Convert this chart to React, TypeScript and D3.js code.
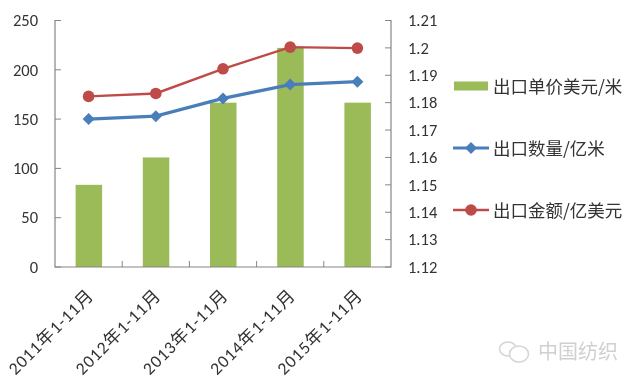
import React from "react";
import * as d3 from "d3";

const categories = ["2011年1-11月", "2012年1-11月", "2013年1-11月", "2014年1-11月", "2015年1-11月"];
const unitPrice = [1.15, 1.16, 1.18, 1.2, 1.18];
const quantity = [150, 153, 171, 185, 188];
const amount = [173, 176, 201, 223, 222];
const leftTicks = [0, 50, 100, 150, 200, 250];
const rightTicks = [1.12, 1.13, 1.14, 1.15, 1.16, 1.17, 1.18, 1.19, 1.2, 1.21];
const legendLabels = ["出口单价美元/米", "出口数量/亿米", "出口金额/亿美元"];

const GREEN = "#9bbb59";
const BLUE = "#4a7ebb";
const RED = "#be4b48";
const AXIS = "#868686";
const TEXT = "#333";
const FONT = "Carlito, 'Open Sans', 'Noto Sans', 'Noto Sans CJK SC', sans-serif";
const CJK = "'Noto Sans CJK SC', sans-serif";

const x = d3.scaleBand<string>().domain(categories).range([55, 391]);
const yL = d3.scaleLinear().domain([0, 250]).range([267, 20.5]);
const yR = d3.scaleLinear().domain([1.12, 1.21]).range([267, 20.5]);
const cx = (i: number) => (x(categories[i]) as number) + x.bandwidth() / 2;

const line = d3.line<number>().x((_, i) => cx(i)).y((d) => yL(d));
const diamond = (px: number, py: number, r: number) =>
  `M${px},${py - r}L${px + r},${py}L${px},${py + r}L${px - r},${py}Z`;

export default function App() {
  const legendY = [86, 148, 210];
  return (
    <svg
      width={640}
      height={385}
      style={{ position: "absolute", left: 0, top: 0, background: "#fff" }}
    >
      <g style={{ filter: "blur(0.5px)" }}>
        {categories.map((c, i) => (
          <rect
            key={c}
            x={cx(i) - 13}
            y={yR(unitPrice[i])}
            width={26.5}
            height={267 - yR(unitPrice[i])}
            fill={GREEN}
          />
        ))}

        <path d={`M61,20.5H55V267H391V20.5H385`} fill="none" stroke={AXIS} strokeWidth={1.2} />
        {leftTicks.map((t) => (
          <line key={t} x1={55} x2={61} y1={yL(t)} y2={yL(t)} stroke={AXIS} strokeWidth={1} />
        ))}
        {rightTicks.map((t) => (
          <line key={t} x1={385} x2={391} y1={yR(t)} y2={yR(t)} stroke={AXIS} strokeWidth={1} />
        ))}
        {categories.slice(1).map((c) => (
          <line
            key={c}
            x1={x(c) as number}
            x2={x(c) as number}
            y1={261}
            y2={267}
            stroke={AXIS}
            strokeWidth={1}
          />
        ))}

        <path d={line(quantity) as string} fill="none" stroke={BLUE} strokeWidth={3.2} />
        {quantity.map((v, i) => (
          <path key={i} d={diamond(cx(i), yL(v), 6)} fill={BLUE} />
        ))}
        <path d={line(amount) as string} fill="none" stroke={RED} strokeWidth={2.4} />
        {amount.map((v, i) => (
          <circle key={i} cx={cx(i)} cy={yL(v)} r={5.8} fill={RED} />
        ))}

        {leftTicks.map((t) => (
          <text key={t} x={38} y={yL(t)} dy="0.35em" textAnchor="end" fontSize={16.5} fontFamily={FONT} fill={TEXT}>
            {t}
          </text>
        ))}
        {rightTicks.map((t) => (
          <text key={t} x={408} y={yR(t)} dy="0.35em" fontSize={16.5} fontFamily={FONT} fill={TEXT}>
            {String(t)}
          </text>
        ))}
        {categories.map((c, i) => (
          <text
            key={c}
            transform={`translate(${cx(i) + 2},${292}) rotate(-45)`}
            textAnchor="end"
            dy="0.35em"
            fontSize={17.5}
            letterSpacing={1}
            fontFamily={FONT}
            fill={TEXT}
          >
            {c}
          </text>
        ))}

        <rect x={454} y={legendY[0] - 4.5} width={34} height={9} fill={GREEN} />
        <line x1={453} x2={489} y1={legendY[1]} y2={legendY[1]} stroke={BLUE} strokeWidth={3.2} />
        <path d={diamond(471, legendY[1], 6)} fill={BLUE} />
        <line x1={453} x2={489} y1={legendY[2]} y2={legendY[2]} stroke={RED} strokeWidth={2.4} />
        <circle cx={471} cy={legendY[2]} r={5.8} fill={RED} />
        {legendLabels.map((l, i) => (
          <text key={l} x={493} y={legendY[i] + 1} dy="0.35em" fontSize={17.5} fontFamily={CJK} fill={TEXT}>
            {l}
          </text>
        ))}

        <g fill="none" stroke="#d4d4d4" strokeWidth={1.5}>
          <ellipse cx={508} cy={349} rx={8.5} ry={7} />
          <ellipse cx={519} cy={354} rx={9.5} ry={8} fill="#fff" />
        </g>
        <text x={538} y={352} dy="0.35em" fontSize={20} fontFamily={CJK} fill="#d0d0d0">
          中国纺织
        </text>
      </g>
    </svg>
  );
}
